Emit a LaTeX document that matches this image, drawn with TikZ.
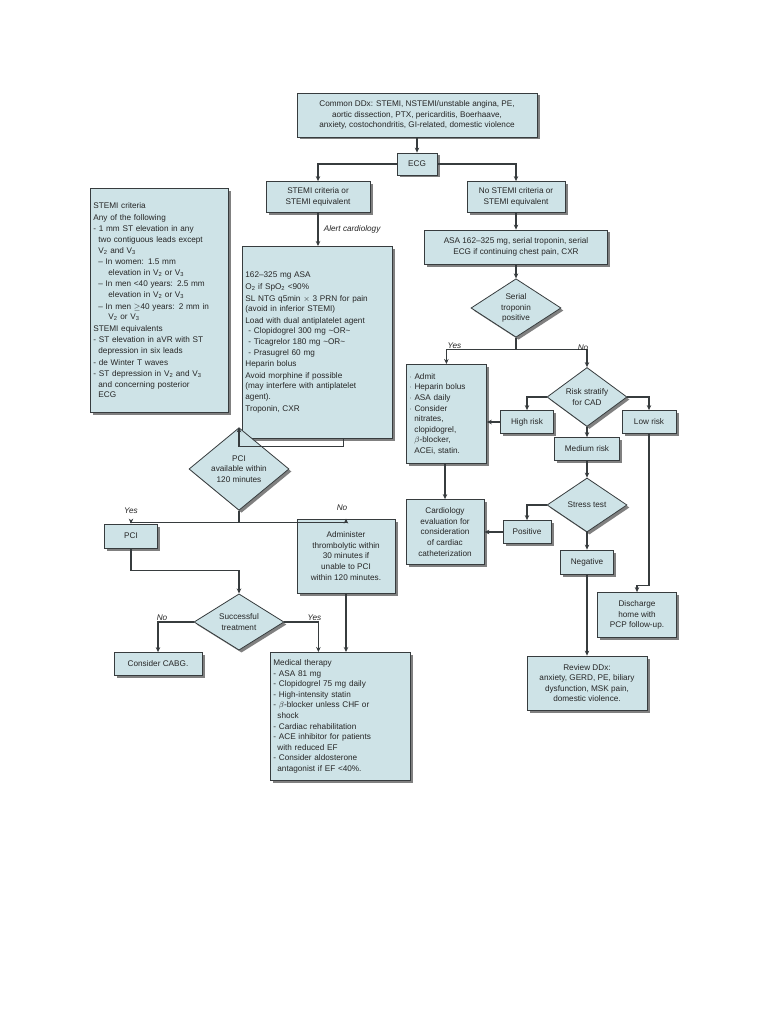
\documentclass[tikz,border=0pt]{standalone}
\usepackage{fontspec}
\setmainfont{Liberation Sans}
\usetikzlibrary{shapes.geometric,shadows,arrows.meta,calc}
\definecolor{boxfill}{RGB}{206,227,231}
\definecolor{lin}{RGB}{55,60,62}
\newcommand{\sbs}[1]{\textsubscript{#1}}
\begin{document}
\begin{tikzpicture}[x=1pt,y=-1pt,
  every node/.style={font=\fontsize{8.2}{10.6}\selectfont, text=black!85},
  box/.style={draw=lin, line width=0.8pt, fill=boxfill, inner sep=3pt,
    drop shadow={shadow xshift=2.5pt, shadow yshift=-2.5pt, fill=black!55, opacity=0.9}},
  cbox/.style={box, align=center},
  lbox/.style={box, align=left, anchor=north west},
  dia/.style={box, diamond, align=center, inner sep=0pt},
  arr/.style={draw=lin, line width=1.1pt, -{Stealth[length=5pt,width=4.5pt]}},
  ln/.style={draw=lin, line width=1.1pt},
  lab/.style={font=\fontsize{8.2}{10}\selectfont\itshape}]
\useasboundingbox (0,0) rectangle (768,1024);
\fill[white] (0,0) rectangle (768,1024);

% top
\node[cbox, minimum width=240, minimum height=44] (ddx) at (417,115) {Common DDx: STEMI, NSTEMI/unstable angina, PE,\\aortic dissection, PTX, pericarditis, Boerhaave,\\anxiety, costochondritis, GI-related, domestic violence};
\node[cbox, minimum width=40, minimum height=22] (ecg) at (417,164) {ECG};
\node[cbox, minimum width=104, minimum height=31] (stemi) at (318,197) {STEMI criteria or\\STEMI equivalent};
\node[cbox, minimum width=98, minimum height=31] (nost) at (516,197) {No STEMI criteria or\\STEMI equivalent};

% left criteria
\node[lbox, minimum width=138, minimum height=224, text width=132] (crit) at (90,188) {STEMI criteria\\[1pt]
Any of the following\\[1pt]
\hspace*{0pt}- 1 mm ST elevation in any\\
\hspace*{5pt}two contiguous leads except\\
\hspace*{5pt}V\sbs{2} and V\sbs{3}\\[1pt]
\hspace*{5pt}-- In women: 1.5 mm\\
\hspace*{15pt}elevation in V\sbs{2} or V\sbs{3}\\[1pt]
\hspace*{5pt}-- In men <40 years: 2.5 mm\\
\hspace*{15pt}elevation in V\sbs{2} or V\sbs{3}\\[1pt]
\hspace*{5pt}-- In men $\geq$40 years: 2 mm in\\
\hspace*{15pt}V\sbs{2} or V\sbs{3}\\[1pt]
STEMI equivalents\\[1pt]
- ST elevation in aVR with ST\\
\hspace*{5pt}depression in six leads\\[1pt]
- de Winter T waves\\[1pt]
- ST depression in V\sbs{2} and V\sbs{3}\\
\hspace*{5pt}and concerning posterior\\
\hspace*{5pt}ECG};

% ASA box
\node[lbox, minimum width=150, minimum height=192, text width=144] (asa) at (242,246) {162--325 mg ASA\\[1pt]
O\sbs{2} if SpO\sbs{2} <90\%\\[1pt]
SL NTG q5min $\times$ 3 PRN for pain\\
(avoid in inferior STEMI)\\[1pt]
Load with dual antiplatelet agent\\
\hspace*{3pt}- Clopidogrel 300 mg \textasciitilde OR\textasciitilde\\
\hspace*{3pt}- Ticagrelor 180 mg \textasciitilde OR\textasciitilde\\
\hspace*{3pt}- Prasugrel 60 mg\\[1pt]
Heparin bolus\\[1pt]
Avoid morphine if possible\\
(may interfere with antiplatelet\\
agent).\\[1pt]
Troponin, CXR};

% right branch
\node[cbox, minimum width=183, minimum height=34] (asa2) at (516,247) {ASA 162--325 mg, serial troponin, serial\\ECG if continuing chest pain, CXR};
\node[dia, minimum width=90, minimum height=58] (trop) at (516,308) {Serial\\troponin\\positive};
\node[lbox, minimum width=80, minimum height=99, text width=74] (admit) at (406,364) {\hspace*{0pt}$\cdot$ Admit\\
$\cdot$ Heparin bolus\\
$\cdot$ ASA daily\\
$\cdot$ Consider\\
\hspace*{5pt}nitrates,\\
\hspace*{5pt}clopidogrel,\\
\hspace*{5pt}$\beta$-blocker,\\
\hspace*{5pt}ACEi, statin.};
\node[dia, minimum width=80, minimum height=54] (risk) at (587,397) {Risk stratify\\for CAD};
\node[cbox, minimum width=53, minimum height=23] (high) at (527,422) {High risk};
\node[cbox, minimum width=54, minimum height=23] (low) at (649,422) {Low risk};
\node[cbox, minimum width=65, minimum height=23] (medr) at (587,449) {Medium risk};
\node[dia, minimum width=80, minimum height=54] (stress) at (587,505) {Stress test};
\node[cbox, minimum width=48, minimum height=23] (pos) at (527,532) {Positive};
\node[cbox, minimum width=78, minimum height=65] (cardio) at (445,532) {Cardiology\\evaluation for\\consideration\\of cardiac\\catheterization};
\node[cbox, minimum width=53, minimum height=24] (neg) at (587,562) {Negative};
\node[cbox, minimum width=79, minimum height=45] (disch) at (637,615) {Discharge\\home with\\PCP follow-up.};
\node[cbox, minimum width=120, minimum height=54] (review) at (587,683) {Review DDx:\\anxiety, GERD, PE, biliary\\dysfunction, MSK pain,\\domestic violence.};

% left lower
\node[dia, minimum width=100, minimum height=46] (pcid) at (239,469) {PCI\\available within\\120 minutes};
\node[cbox, minimum width=53, minimum height=24] (pci) at (131,536) {PCI};
\node[cbox, minimum width=98, minimum height=74] (admin) at (346,556) {Administer\\thrombolytic within\\30 minutes if\\unable to PCI\\within 120 minutes.};
\node[dia, minimum width=90, minimum height=50] (succ) at (239,622) {Successful\\treatment};
\node[cbox, minimum width=88, minimum height=23] (cabg) at (158,664) {Consider CABG.};
\node[lbox, minimum width=140, minimum height=128, text width=134] (med) at (270,652) {Medical therapy\\
- ASA 81 mg\\
- Clopidogrel 75 mg daily\\
- High-intensity statin\\
- $\beta$-blocker unless CHF or\\
\hspace*{4pt}shock\\
- Cardiac rehabilitation\\
- ACE inhibitor for patients\\
\hspace*{4pt}with reduced EF\\
- Consider aldosterone\\
\hspace*{4pt}antagonist if EF <40\%.};

% connectors
\draw[arr] (ddx) -- (ecg);
\draw[arr] (ecg.west) -| (stemi.north);
\draw[arr] (ecg.east) -| (nost.north);
\draw[arr] (stemi) -- (asa.north -| stemi) node[midway, right, lab, xshift=2pt] {Alert cardiology};
\draw[arr] ([xshift=26]asa.south) -- ++(0,8) -| (pcid.north);
\draw[ln] (pcid.south) -- ++(0,12) coordinate (b1);
\draw[arr] (b1) -| (pci.north) node[pos=0.75, above, lab, yshift=6pt] {Yes};
\draw[arr] (b1) -| (admin.north) node[pos=0.75, above, lab, yshift=6pt, xshift=-4pt] {No};
\draw[arr] (pci.south) -- ++(0,22) -| (succ.north);
\draw[arr] (succ.west) -| (cabg.north) node[pos=0.6, above, lab, yshift=4pt, xshift=4pt] {No};
\draw[arr] (succ.east) -| ([xshift=-22]med.north) node[pos=0.6, above, lab, yshift=4pt, xshift=-4pt] {Yes};
\draw[arr] (admin.south) -- (admin.south |- med.north);

\draw[arr] (nost) -- (asa2);
\draw[arr] (asa2) -- (trop);
\draw[ln] (trop.south) -- ++(0,12) coordinate (b2);
\draw[arr] (b2) -| (admit.north) node[pos=0.8, above, lab, yshift=6pt, xshift=8pt] {Yes};
\draw[arr] (b2) -| (risk.north) node[pos=0.8, above, lab, yshift=6pt, xshift=-4pt] {No};
\draw[arr] (risk.west) -| (high.north);
\draw[arr] (risk.east) -| (low.north);
\draw[arr] (high.west) -- (high.west -| admit.east);
\draw[arr] (risk.south) -- (medr.north);
\draw[arr] (medr.south) -- (stress.north);
\draw[arr] (stress.west) -| (pos.north);
\draw[arr] (pos.west) -- (pos.west -| cardio.east);
\draw[arr] (admit.south -| cardio.north) -- (cardio.north);
\draw[arr] (stress.south) -- (neg.north);
\draw[arr] (neg.south) -- (review.north);
\draw[arr] (low.south) -- ++(0,152) -| (disch.north);
\end{tikzpicture}
\end{document}
